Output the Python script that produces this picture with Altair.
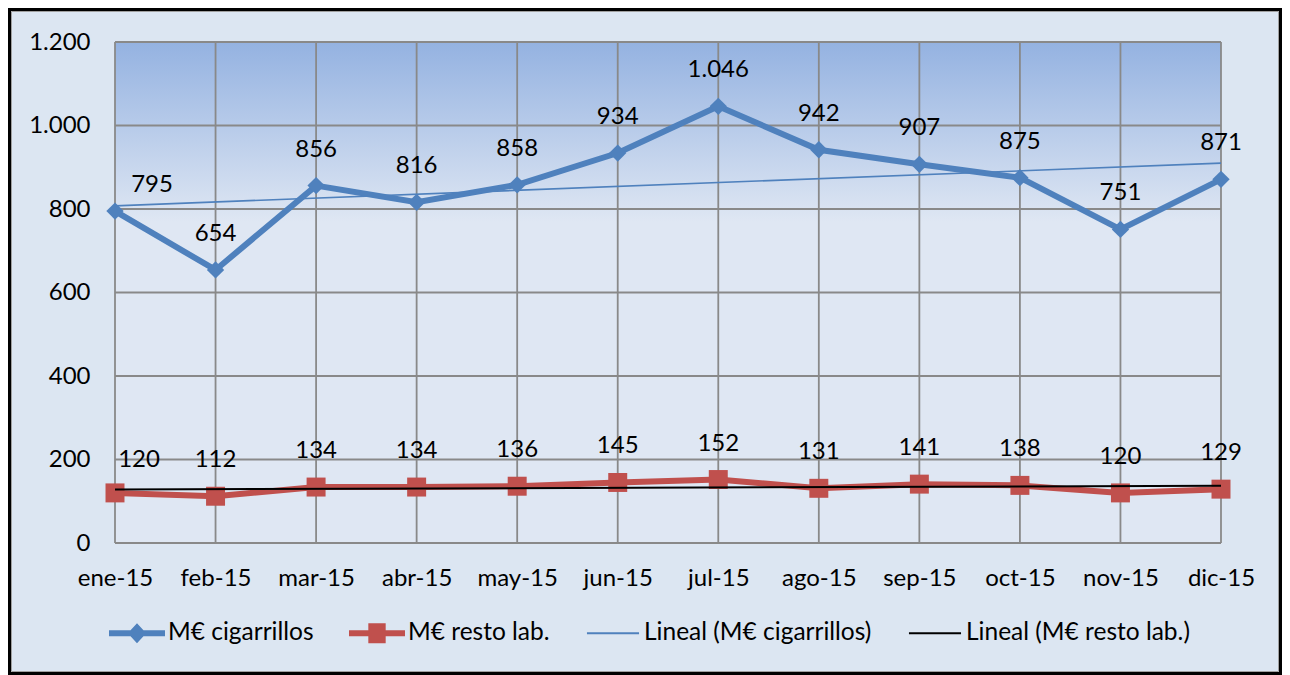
import json
import altair as alt
import pandas as pd

# ---------------- data ----------------
months = ["ene-15", "feb-15", "mar-15", "abr-15", "may-15", "jun-15",
          "jul-15", "ago-15", "sep-15", "oct-15", "nov-15", "dic-15"]
cigarrillos = [795, 654, 856, 816, 858, 934, 1046, 942, 907, 875, 751, 871]
resto_lab = [120, 112, 134, 134, 136, 145, 152, 131, 141, 138, 120, 129]
y_ticks = [0, 200, 400, 600, 800, 1000, 1200]
series = ["M€ cigarrillos", "M€ resto lab.",
          "Lineal (M€ cigarrillos)", "Lineal (M€ resto lab.)"]

rows = []
for i, m in enumerate(months):
    rows.append({"idx": i, "mes": m, "serie": series[0], "valor": cigarrillos[i]})
    rows.append({"idx": i, "mes": m, "serie": series[1], "valor": resto_lab[i]})
df = pd.DataFrame(rows)
df_x = pd.DataFrame({"idx": list(range(len(months)))})
df_y = pd.DataFrame({"v": y_ticks})
one = pd.DataFrame({"a": [0]})

# ---------------- style ----------------
FONT = "Lato"
FS = 24
BLUE = "#4F81BD"
RED = "#C0504D"
GRID = "#898989"
BG = "#DCE6F2"

W, H = 1106, 501
PL, PT, PR, PB = 107, 34, 61, 132
SVG_W, SVG_H = PL + W + PR, PT + H + PB

x_scale = alt.Scale(domain=[0, len(months) - 1], nice=False, zero=False)
y_scale = alt.Scale(domain=[0, 1200], nice=False)

x_axis = alt.Axis(values=list(range(len(months))),
                  labelExpr=json.dumps(months) + "[datum.value]",
                  grid=False, domain=False, ticks=False, title=None,
                  labelFont=FONT, labelFontSize=FS, labelColor="black",
                  labelPadding=23, labelFlush=False, labelOverlap=False)
y_axis = alt.Axis(values=y_ticks,
                  labelExpr="replace(format(datum.value, ','), ',', '.')",
                  grid=False, domain=False, ticks=False, title=None,
                  labelFont=FONT, labelFontSize=FS, labelColor="black",
                  labelPadding=25)

X = alt.X("idx:Q", scale=x_scale, axis=x_axis)
Y = alt.Y("valor:Q", scale=y_scale, axis=y_axis)

# ---------------- background gradient ----------------
grad = alt.LinearGradient(
    gradient="linear", x1=0, x2=0, y1=0, y2=1,
    stops=[alt.GradientStop(color="#94B2E1", offset=0),
           alt.GradientStop(color="#DFE7F3", offset=0.36),
           alt.GradientStop(color="#DFE7F3", offset=1)])
bg = alt.Chart(one).mark_rect(fill=grad, strokeWidth=0).encode(
    x=alt.value(0), x2=alt.value("width"), y=alt.value(0), y2=alt.value("height"))

# ---------------- gridlines ----------------
vgrid = alt.Chart(df_x).mark_rule(color=GRID, strokeWidth=1.8).encode(
    x=alt.X("idx:Q", scale=x_scale, axis=x_axis), y=alt.value(0), y2=alt.value("height"))
hgrid = alt.Chart(df_y).mark_rule(color=GRID, strokeWidth=1.8).encode(
    y=alt.Y("v:Q", scale=y_scale, axis=y_axis), x=alt.value(0), x2=alt.value("width"))

# ---------------- legend carrier ----------------
paths = [
    "M-1,-0.107L1,-0.107L1,0.107L-1,0.107Z M0,-0.36L0.33,0L0,0.36L-0.33,0Z",
    "M-1,-0.107L1,-0.107L1,0.107L-1,0.107Z M-0.31,-0.36L0.31,-0.36L0.31,0.36L-0.31,0.36Z",
    "M-0.93,-0.036L0.93,-0.036L0.93,0.036L-0.93,0.036Z",
    "M-0.93,-0.036L0.93,-0.036L0.93,0.036L-0.93,0.036Z",
]
legend = alt.Legend(title=None, orient="none", legendX=-6, legendY=563,
                    direction="horizontal", symbolSize=3136, symbolStrokeWidth=0,
                    symbolOpacity=1, labelFont=FONT, labelFontSize=24.5,
                    labelColor="black", labelOffset=3, columnPadding=35,
                    padding=0, labelLimit=500)
carrier = alt.Chart(df).mark_point(filled=True, opacity=0).encode(
    x=X, y=Y,
    color=alt.Color("serie:N", scale=alt.Scale(domain=series,
                    range=[BLUE, RED, BLUE, "black"]), legend=legend),
    shape=alt.Shape("serie:N", scale=alt.Scale(domain=series, range=paths),
                    legend=legend))

# ---------------- series ----------------
def sel(name):
    return alt.datum.serie == name

line_cig = alt.Chart(df).transform_filter(sel(series[0])).mark_line(
    color=BLUE, strokeWidth=6).encode(x=X, y=Y)
line_res = alt.Chart(df).transform_filter(sel(series[1])).mark_line(
    color=RED, strokeWidth=6).encode(x=X, y=Y)
pts_cig = alt.Chart(df).transform_filter(sel(series[0])).mark_point(
    shape="diamond", filled=True, size=300, color=BLUE, opacity=1).encode(x=X, y=Y)
pts_res = alt.Chart(df).transform_filter(sel(series[1])).mark_point(
    shape="square", filled=True, size=360, color=RED, opacity=1).encode(x=X, y=Y)

trend_cig = alt.Chart(df).transform_filter(sel(series[0])).transform_regression(
    "idx", "valor").mark_line(color=BLUE, strokeWidth=1.6).encode(x=X, y=Y)
trend_res = alt.Chart(df).transform_filter(sel(series[1])).transform_regression(
    "idx", "valor").mark_line(color="black", strokeWidth=2).encode(x=X, y=Y)

# ---------------- data labels ----------------
lbl_expr = "replace(format(datum.valor, ','), ',', '.')"
labels = alt.Chart(df).transform_filter(alt.datum.idx > 0).transform_calculate(
    lbl=lbl_expr).mark_text(font=FONT, fontSize=FS, color="black",
                            baseline="middle", dy=-36).encode(x=X, y=Y, text="lbl:N")
labels_first_cig = alt.Chart(df).transform_filter(
    (alt.datum.idx == 0) & sel(series[0])).transform_calculate(
    lbl=lbl_expr).mark_text(font=FONT, fontSize=FS, color="black",
                            baseline="middle", dx=37, dy=-26).encode(x=X, y=Y, text="lbl:N")
labels_first_res = alt.Chart(df).transform_filter(
    (alt.datum.idx == 0) & sel(series[1])).transform_calculate(
    lbl=lbl_expr).mark_text(font=FONT, fontSize=FS, color="black",
                            baseline="middle", dx=24, dy=-33).encode(x=X, y=Y, text="lbl:N")

# ---------------- frame ----------------
frame_outer = alt.Chart(one).mark_rect(fill=None, stroke="black", strokeWidth=3).encode(
    x=alt.value(-PL + 1.5), x2=alt.value(SVG_W - PL - 1.5),
    y=alt.value(-PT + 1.5), y2=alt.value(SVG_H - PT - 1.5))
frame_inner = alt.Chart(one).mark_rect(fill=None, stroke="#A0A0A0", strokeWidth=1).encode(
    x=alt.value(-PL + 3.5), x2=alt.value(SVG_W - PL - 3.5),
    y=alt.value(-PT + 3.5), y2=alt.value(SVG_H - PT - 3.5))

chart = alt.layer(
    bg, hgrid, vgrid, carrier, line_cig, line_res, pts_cig, pts_res,
    trend_cig, trend_res, labels, labels_first_cig, labels_first_res,
    frame_outer, frame_inner
).properties(
    width=W, height=H,
    autosize=alt.AutoSizeParams(type="none"),
    padding={"left": PL, "top": PT, "right": PR, "bottom": PB},
    background=BG,
).configure_view(stroke=None)

chart.save("out.html", embed_options={"renderer": "svg", "actions": False})
